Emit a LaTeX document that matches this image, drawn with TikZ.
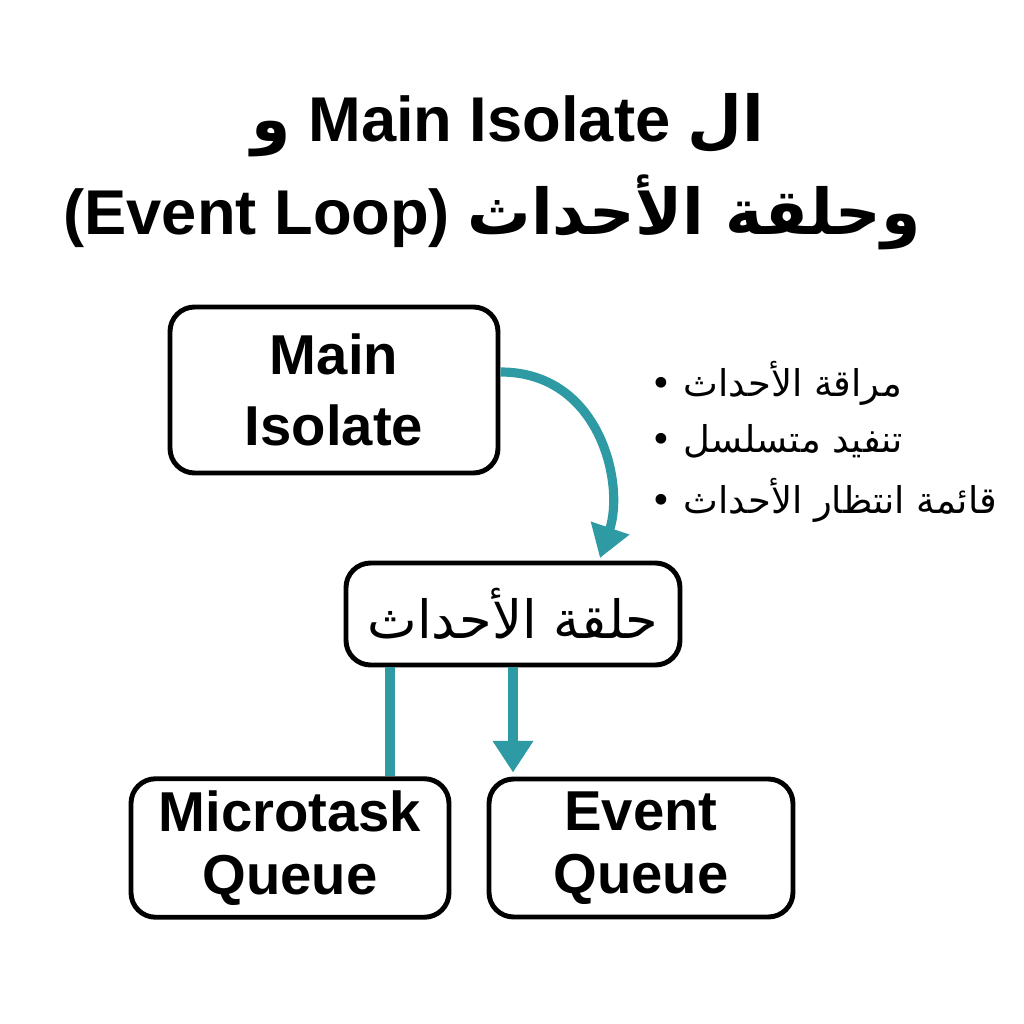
\documentclass[tikz,border=0pt]{standalone}
\usepackage{fontspec}
\setmainfont{Liberation Sans}
\newfontfamily\arabicfont[Script=Arabic]{DejaVu Sans}
\TeXXeTstate=1
\usetikzlibrary{arrows.meta}
\definecolor{teal}{HTML}{2E9AA4}
\tikzset{
    box/.style={draw, line width=1.4pt, rounded corners=7pt, align=center, font=\fontsize{16}{19}\selectfont\bfseries},
    flow/.style={teal, line width=2.6pt},
    tip/.style={-{Triangle[length=9pt,width=11pt]}},
    point/.style={anchor=west, font=\arabicfont\fontsize{10.5}{13}\selectfont},
    title/.style={font=\fontsize{18}{22}\selectfont\bfseries}
}
\begin{document}
\begin{tikzpicture}
    \useasboundingbox (0,0) rectangle (10.24,10.24);
    % Title
    \node[title] (t1) at (5.08,8.99) {\beginR{\arabicfont ال} \beginL Main Isolate\endL{} {\arabicfont و}\endR};
    \node[title] (t2) at (4.92,8.12) {\beginR{\arabicfont وحلقة الأحداث} \beginL(Event Loop)\endL\endR};

    % Boxes
    \node[box, minimum width=3.28cm, minimum height=1.66cm] (main) at (3.34,6.34) {Main\\[1pt]Isolate};
    \node[box, minimum width=3.34cm, minimum height=1.02cm, font=\arabicfont\fontsize{15}{19}\selectfont] (loop) at (5.13,4.10) {\beginR حلقة الأحداث\endR};
    \node[box, minimum width=3.18cm, minimum height=1.38cm] (micro) at (2.90,1.76) {Microtask\\[-1pt]Queue};
    \node[box, minimum width=3.04cm, minimum height=1.38cm] (event) at (6.41,1.76) {Event\\[-1pt]Queue};

    % Bullet points
    \node[point] (p1) at (6.38,6.41) {\beginR مراقة الأحداث •\endR};
    \node[point] (p2) at (6.38,5.83) {\beginR تنفيد متسلسل •\endR};
    \node[point] (p3) at (6.38,5.24) {\beginR قائمة انتظار الأحداث •\endR};

    % Connectors
    \coordinate (a) at ([yshift=0.18cm]main.east);
    \coordinate (b) at (6.0,4.66);
    \draw[flow, tip] (a) .. controls (6.0,6.52) and (6.25,5.4) .. (b);
    \draw[flow] (loop.south -| 3.90,0) -- (micro.north -| 3.90,0);
    \draw[flow, tip] (loop.south -| 5.13,0) -- ([yshift=0.04cm]event.north -| 5.13,0);
\end{tikzpicture}
\end{document}
